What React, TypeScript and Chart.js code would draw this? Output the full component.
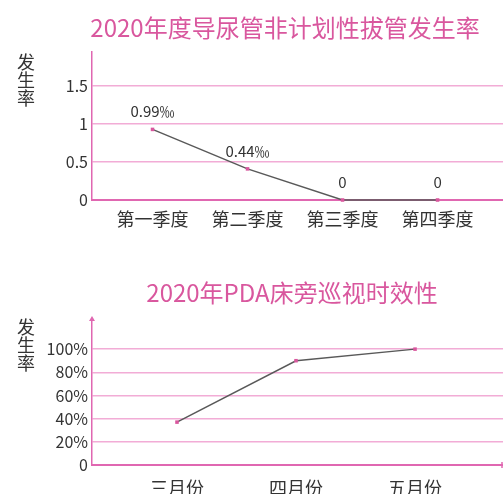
import React, { useEffect, useRef } from 'react';
import { Chart, registerables } from 'chart.js';

Chart.register(...registerables);

// ---------- data ----------
const Q_TITLE = '2020年度导尿管非计划性拔管发生率';
const Q_LABELS = ['第一季度', '第二季度', '第三季度', '第四季度'];
const Q_VALUES = [0.93, 0.41, 0, 0];
const Q_POINT_LABELS = ['0.99‰', '0.44‰', '0', '0'];
const Q_TICKS = [0, 0.5, 1, 1.5];

const M_TITLE = '2020年PDA床旁巡视时效性';
const M_LABELS = ['三月份', '四月份', '五月份'];
const M_VALUES = [37, 90, 100];
const M_TICKS = [0, 20, 40, 60, 80, 100];

const Y_TITLE = ['发', '生', '率'];

// ---------- style ----------
const FONT = '"Noto Sans CJK SC", "Noto Sans", sans-serif';
const PINK = '#d9579e';
const AXIS = '#e067b1';
const GRID = '#f2acd6';
const TEXT = '#333333';
const LINE = '#595959';
const W = 503;

type Spec = {
  height: number;
  top: number;
  bottom: number;
  xMin: number;
  xMax: number;
  yMax: number;
  labels: string[];
  values: number[];
  ticks: number[];
  tickFmt: (v: number) => string;
  title: string;
  titleX: number;
  titleY: number;
  yTitleY: number;
  pointLabels?: string[];
  xPad: number;
  arrows?: boolean;
};

function makeOverlay(s: Spec) {
  return {
    id: 'overlay',
    afterDraw(chart: any) {
      const ctx = chart.ctx as CanvasRenderingContext2D;
      ctx.save();
      ctx.textAlign = 'center';
      ctx.textBaseline = 'middle';
      ctx.fillStyle = PINK;
      ctx.font = `24px ${FONT}`;
      ctx.fillText(s.title, s.titleX, s.titleY);
      ctx.fillStyle = TEXT;
      ctx.font = `18px ${FONT}`;
      Y_TITLE.forEach((c, i) => ctx.fillText(c, 26, s.yTitleY + i * 18));
      if (s.pointLabels) {
        ctx.font = `15px ${FONT}`;
        const meta = chart.getDatasetMeta(0);
        meta.data.forEach((pt: any, i: number) => {
          ctx.fillText(s.pointLabels![i], pt.x, pt.y - 18);
        });
      }
      if (s.arrows) {
        const a = chart.chartArea;
        ctx.fillStyle = AXIS;
        ctx.strokeStyle = AXIS;
        ctx.beginPath();
        ctx.moveTo(a.left, a.top - 3);
        ctx.lineTo(a.left - 3, a.top + 2);
        ctx.lineTo(a.left + 3, a.top + 2);
        ctx.closePath();
        ctx.fill();
        ctx.lineWidth = 1.5;
        ctx.beginPath();
        ctx.moveTo(a.right - 1, a.bottom - 3);
        ctx.lineTo(a.right - 1, a.bottom + 3);
        ctx.stroke();
      }
      ctx.restore();
    },
  };
}

function LineChart({ spec }: { spec: Spec }) {
  const ref = useRef<HTMLCanvasElement>(null);
  useEffect(() => {
    if (!ref.current) return;
    const s = spec;
    const chart = new Chart(ref.current, {
      type: 'line',
      data: {
        datasets: [
          {
            data: s.values.map((v, i) => ({ x: i, y: v })),
            borderColor: LINE,
            borderWidth: 1.5,
            pointStyle: 'rect',
            pointRadius: 2.5,
            pointBackgroundColor: PINK,
            pointBorderWidth: 0,
            fill: false,
            tension: 0,
            clip: false,
          },
        ],
      },
      options: {
        responsive: false,
        animation: false,
        layout: { autoPadding: false, padding: { top: s.top, left: 0, right: 0, bottom: 0 } },
        plugins: { legend: { display: false }, tooltip: { enabled: false }, title: { display: false } },
        scales: {
          x: {
            type: 'linear',
            min: s.xMin,
            max: s.xMax,
            afterBuildTicks: (sc: any) => {
              sc.ticks = s.labels.map((_, i) => ({ value: i }));
            },
            afterFit: (sc: any) => {
              sc.height = s.height - s.bottom;
            },
            ticks: {
              autoSkip: false,
              maxRotation: 0,
              padding: s.xPad,
              color: TEXT,
              font: { family: FONT, size: 18 },
              callback: (_v: any, i: number) => s.labels[i],
            },
            grid: { display: false, drawTicks: false },
            border: { display: true, color: AXIS, width: 2 },
          },
          y: {
            type: 'linear',
            min: 0,
            max: s.yMax,
            afterBuildTicks: (sc: any) => {
              sc.ticks = s.ticks.map((v) => ({ value: v }));
            },
            afterFit: (sc: any) => {
              sc.width = 92;
            },
            ticks: {
              padding: 4,
              color: TEXT,
              font: { family: FONT, size: 16 },
              callback: (v: any) => s.tickFmt(Number(v)),
            },
            grid: {
              drawTicks: false,
              lineWidth: 1.5,
              color: (c: any) => (c.tick && c.tick.value === 0 ? 'rgba(0,0,0,0)' : GRID),
            },
            border: { display: true, color: AXIS, width: 1.5 },
          },
        },
      },
      plugins: [makeOverlay(s)],
    } as any);
    return () => chart.destroy();
  }, [spec]);
  return <canvas ref={ref} width={W} height={spec.height} style={{ display: 'block', width: W, height: spec.height }} />;
}

const SPEC1: Spec = {
  height: 245,
  top: 52,
  bottom: 200,
  xMin: -0.637,
  xMax: 3.689,
  yMax: 1.95,
  labels: Q_LABELS,
  values: Q_VALUES,
  ticks: Q_TICKS,
  tickFmt: (v) => String(v),
  title: Q_TITLE,
  titleX: 285,
  titleY: 28,
  yTitleY: 62,
  pointLabels: Q_POINT_LABELS,
  xPad: 8,
};

const SPEC2: Spec = {
  height: 249,
  top: 74,
  bottom: 220,
  xMin: -0.714,
  xMax: 2.739,
  yMax: 126,
  labels: M_LABELS,
  values: M_VALUES,
  ticks: M_TICKS,
  tickFmt: (v) => (v === 0 ? '0' : v + '%'),
  title: M_TITLE,
  titleX: 292,
  titleY: 48,
  yTitleY: 82,
  xPad: 12,
  arrows: true,
};

export default function App() {
  return (
    <div style={{ position: 'fixed', left: 0, top: 0, width: W, height: 494, background: '#fff', overflow: 'hidden' }}>
      <LineChart spec={SPEC1} />
      <LineChart spec={SPEC2} />
    </div>
  );
}
